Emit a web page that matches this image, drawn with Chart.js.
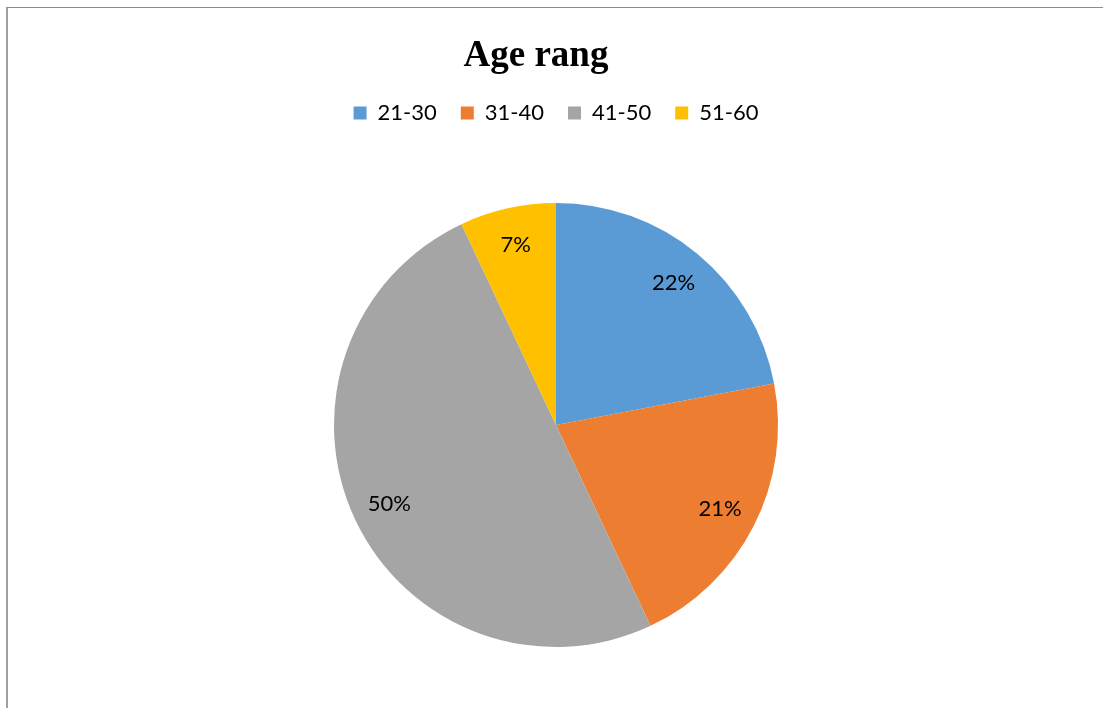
<!DOCTYPE html>
<html>
<head>
<meta charset="utf-8">
<title>Age rang</title>
<script src="https://cdn.jsdelivr.net/npm/chart.js@4.4.1/dist/chart.umd.min.js"></script>
<style>
  html, body { margin: 0; padding: 0; background: #fff; overflow: hidden; }
  #frame {
    position: absolute; left: 6px; top: 7px; right: 0; bottom: 0;
    border-left: 2px solid #a0a0a0; border-top: 1px solid #8c8c8c;
  }
  #wrap { position: absolute; left: 0; top: 0; width: 1103px; height: 708px; }
</style>
</head>
<body>
<div id="frame"></div>
<div id="wrap"><canvas id="pie" width="1103" height="708"></canvas></div>
<script>
const chartTitle = 'Age rang';
const ageGroups = ['21-30', '31-40', '41-50', '51-60'];
const shares = [22, 21, 50, 7];
const sliceColors = ['#5B9BD5', '#ED7D31', '#A5A5A5', '#FFC000'];

const labelFont = '"Lato", "Open Sans", sans-serif';

// title sits a bit left of the pie, so draw it ourselves
const titleText = {
  id: 'titleText',
  afterDraw(chart) {
    const ctx = chart.ctx;
    ctx.save();
    ctx.font = 'bold 37px "Liberation Serif", "Times New Roman", serif';
    ctx.fillStyle = '#000';
    ctx.textAlign = 'center';
    ctx.textBaseline = 'alphabetic';
    ctx.fillText(chartTitle, 536, 66);
    ctx.restore();
  }
};

// extra room under the legend
const legendGap = {
  id: 'legendGap',
  beforeInit(chart) {
    const fit = chart.legend.fit;
    chart.legend.fit = function () {
      fit.call(this);
      this.height += 69;
    };
  }
};

// percentage labels inside the slices
const sliceLabels = {
  id: 'sliceLabels',
  afterDatasetsDraw(chart) {
    const ctx = chart.ctx;
    const meta = chart.getDatasetMeta(0);
    ctx.save();
    ctx.font = '22px ' + labelFont;
    ctx.fillStyle = '#000';
    ctx.textAlign = 'center';
    ctx.textBaseline = 'middle';
    meta.data.forEach((arc, i) => {
      const mid = (arc.startAngle + arc.endAngle) / 2;
      const r = arc.outerRadius * 0.83;
      ctx.fillText(shares[i] + '%', arc.x + Math.cos(mid) * r, arc.y + Math.sin(mid) * r);
    });
    ctx.restore();
  }
};

new Chart(document.getElementById('pie').getContext('2d'), {
  type: 'pie',
  data: {
    labels: ageGroups,
    datasets: [{
      data: shares,
      backgroundColor: sliceColors,
      borderWidth: 0
    }]
  },
  options: {
    responsive: false,
    animation: false,
    layout: { padding: { top: 78, bottom: 61, left: 9, right: 0 } },
    plugins: {
      title: { display: false },
      tooltip: { enabled: false },
      legend: {
        position: 'top',
        labels: {
          boxWidth: 13,
          boxHeight: 13,
          padding: 24,
          color: '#000',
          font: { family: labelFont, size: 22 }
        }
      }
    }
  },
  plugins: [titleText, legendGap, sliceLabels]
});
</script>
</body>
</html>
